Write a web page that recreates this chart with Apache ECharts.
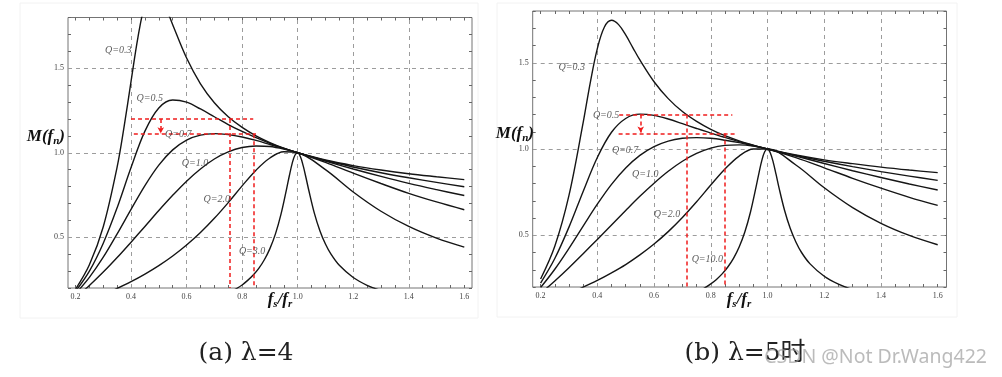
<!DOCTYPE html>
<html><head><meta charset="utf-8">
<script src="https://cdn.jsdelivr.net/npm/echarts@6/dist/echarts.min.js"></script>
<style>html,body{margin:0;padding:0;background:#fff}#c{width:1002px;height:377px}</style>
</head><body><div id="c"></div>
<script>
// ---------- data ----------
const fn = [0.2,0.25,0.3,0.35,0.4,0.45,0.5,0.55,0.6,0.65,0.7,0.75,0.8,0.85,0.9,0.95,1.0,1.1,1.2,1.3,1.4,1.5,1.6];
const fnFine = [0.2,0.25,0.3,0.35,0.375,0.4,0.425,0.45,0.475,0.5,0.525,0.55,0.6,0.65,0.7,0.75,0.8,0.85,0.9,0.95,1.0,1.1,1.2,1.3,1.4,1.5,1.6];
const fnNarrow = [0.75,0.78,0.8,0.82,0.84,0.86,0.88,0.9,0.92,0.94,0.96,0.97,0.98,0.99,1.0,1.01,1.02,1.03,1.04,1.06,1.08,1.1,1.12,1.15,1.2,1.25,1.3];

// panel (a) lambda = 4
const aQ03 = [0.192,0.337,0.562,0.916,1.154,1.422,1.684,1.880,1.964,1.943,1.860,1.757,1.560,1.408,1.296,1.213,1.150,1.100,1.060,1.027,1.000,0.957,0.924,0.898,0.876,0.858,0.841];
const aQ05 = [0.180,0.300,0.465,0.675,0.913,1.128,1.265,1.312,1.299,1.259,1.213,1.167,1.126,1.089,1.056,1.026,1.000,0.954,0.916,0.882,0.852,0.825,0.799];
const aQ07 = [0.166,0.263,0.382,0.520,0.665,0.806,0.927,1.017,1.075,1.104,1.113,1.107,1.093,1.073,1.049,1.025,1.000,0.951,0.904,0.860,0.819,0.782,0.747];
const aQ10 = [0.144,0.215,0.294,0.380,0.471,0.564,0.658,0.748,0.832,0.904,0.963,1.005,1.031,1.040,1.037,1.022,1.000,0.943,0.879,0.818,0.760,0.709,0.663];
const aQ20 = [0.092,0.125,0.160,0.197,0.237,0.282,0.332,0.389,0.454,0.528,0.612,0.705,0.804,0.897,0.969,1.006,1.000,0.900,0.768,0.654,0.564,0.495,0.442];
const aQnarrow = [0.170,0.197,0.218,0.245,0.277,0.316,0.367,0.433,0.520,0.637,0.785,0.864,0.936,0.985,1.000,0.976,0.922,0.852,0.778,0.643,0.539,0.460,0.400,0.334,0.262,0.216,0.185];

// panel (b) lambda = 5
const bQ03 = [0.246,0.436,0.731,1.153,1.384,1.582,1.707,1.746,1.721,1.661,1.588,1.516,1.390,1.292,1.217,1.160,1.114,1.077,1.047,1.022,1.000,0.965,0.937,0.915,0.895,0.878,0.863];
const bQ05 = [0.223,0.365,0.547,0.754,0.951,1.097,1.177,1.202,1.195,1.174,1.147,1.119,1.092,1.067,1.043,1.021,1.000,0.962,0.929,0.898,0.869,0.843,0.818];
const bQ07 = [0.197,0.303,0.424,0.553,0.680,0.795,0.890,0.963,1.014,1.046,1.062,1.066,1.062,1.051,1.037,1.019,1.000,0.959,0.916,0.874,0.835,0.797,0.762];
const bQ10 = [0.163,0.235,0.312,0.393,0.476,0.560,0.644,0.726,0.802,0.871,0.929,0.974,1.005,1.021,1.024,1.017,1.000,0.950,0.891,0.830,0.773,0.720,0.673];
const bQ20 = [0.097,0.129,0.163,0.199,0.238,0.282,0.330,0.386,0.449,0.521,0.603,0.694,0.791,0.884,0.959,1.000,1.000,0.907,0.775,0.660,0.569,0.499,0.445];
const bQnarrow = [0.170,0.196,0.218,0.244,0.276,0.316,0.366,0.432,0.519,0.635,0.783,0.862,0.934,0.984,1.000,0.977,0.924,0.854,0.779,0.645,0.540,0.461,0.400,0.334,0.262,0.216,0.185];

// curve labels [x, y, text]
const labelsA = [[0.354,1.605,'Q=0.3'],[0.467,1.323,'Q=0.5'],[0.570,1.108,'Q=0.7'],[0.630,0.938,'Q=1.0'],[0.709,0.722,'Q=2.0'],[0.836,0.418,'Q=3.0']];
const labelsB = [[0.310,1.472,'Q=0.3'],[0.431,1.193,'Q=0.5'],[0.498,0.994,'Q=0.7'],[0.569,0.853,'Q=1.0'],[0.646,0.623,'Q=2.0'],[0.788,0.361,'Q=10.0']];

// red dashed guides [x1, y1, x2, y2] and arrow [x, yFrom, yTo]
const redA = [[0.40,1.20,0.84,1.20],[0.41,1.11,0.85,1.11],[0.757,1.20,0.757,0.2],[0.842,1.11,0.842,0.2]];
const arrowA = [0.507,1.20,1.115];
const redB = [[0.477,1.20,0.876,1.20],[0.475,1.09,0.891,1.09],[0.714,1.20,0.714,0.2],[0.848,1.09,0.848,0.2]];
const arrowB = [0.553,1.20,1.095];

const gridX = [0.4,0.6,0.8,1.0,1.2,1.4];
const gridY = [0.5,1.0,1.5];
const captions = ['(a) λ=4','(b) λ=5时'];

// ---------- chart ----------
const SERIF = '"Liberation Serif","DejaVu Serif",serif';
const chart = echarts.init(document.getElementById('c'), null, {renderer:'canvas'});

function isMult(v, m){ const r = v/m; return Math.abs(r-Math.round(r))<1e-6; }
const tickStyle = {show:true, inside:true, length:3, lineStyle:{color:'#666', width:1}};
function xAxes(grid){
  return [
    {type:'value', gridIndex:grid, min:0.2, max:1.6, interval:0.05, position:'bottom',
     axisLine:{show:false}, splitLine:{show:false}, axisTick:tickStyle,
     axisLabel:{margin:5, fontSize:8, color:'#444', fontFamily:SERIF, formatter:v=>isMult(v,0.2)?v.toFixed(1):''}},
    {type:'value', gridIndex:grid, min:0.2, max:1.6, interval:0.05, position:'top',
     axisLine:{show:false}, splitLine:{show:false}, axisTick:tickStyle, axisLabel:{show:false}}
  ];
}
function yAxes(grid){
  return [
    {type:'value', gridIndex:grid, min:0.2, max:1.8, interval:0.1, position:'left',
     axisLine:{show:false}, splitLine:{show:false}, axisTick:tickStyle,
     axisLabel:{margin:4, fontSize:8, color:'#444', fontFamily:SERIF, formatter:v=>isMult(v,0.5)?v.toFixed(1):''}},
    {type:'value', gridIndex:grid, min:0.2, max:1.8, interval:0.1, position:'right',
     axisLine:{show:false}, splitLine:{show:false}, axisTick:tickStyle, axisLabel:{show:false}}
  ];
}
function curve(xs, ys, xi, yi){
  return {type:'line', xAxisIndex:xi, yAxisIndex:yi, data:xs.map((x,i)=>[x,ys[i]]),
    smooth:0.35, symbol:'none', silent:true, z:3,
    lineStyle:{color:'#151515', width:1.4}};
}
function panelSeries(xiF, yiF, xiD, yiD, curves, labels, red, arrow){
  const s = [];
  s.push({type:'line', xAxisIndex:xiD, yAxisIndex:yiD, data:[[0.2,0.2]], symbol:'none', lineStyle:{opacity:0}, silent:true,
    markLine:{silent:true, symbol:'none', z:1, label:{show:false}, emphasis:{disabled:true},
      lineStyle:{color:'#9c9c9c', type:[4,4], width:1}, data:gridX.map(v=>({xAxis:v}))}});
  s.push({type:'line', xAxisIndex:xiF, yAxisIndex:yiF, data:[[0,0.2]], symbol:'none', lineStyle:{opacity:0}, silent:true,
    markLine:{silent:true, symbol:'none', z:1, label:{show:false}, emphasis:{disabled:true},
      lineStyle:{color:'#9c9c9c', type:[4,4], width:1}, data:gridY.map(v=>[{coord:[0,v]},{coord:[1,v]}])}});
  curves.forEach(c=>s.push(curve(c[0], c[1], xiD, yiD)));
  const redData = red.map(r=>[{coord:[r[0],r[1]]},{coord:[r[2],r[3]]}]);
  redData.push([{coord:[arrow[0],arrow[1]], symbol:'none'},{coord:[arrow[0],arrow[2]], symbol:'arrow', symbolSize:[5,6]}]);
  s.push({type:'line', xAxisIndex:xiD, yAxisIndex:yiD, data:[[0.2,0.2]], symbol:'none', lineStyle:{opacity:0}, silent:true,
    markLine:{silent:true, symbol:'none', z:6, label:{show:false}, emphasis:{disabled:true},
      lineStyle:{color:'#f01c1c', type:[4,3], width:1.5}, data:redData}});
  s.push({type:'scatter', xAxisIndex:xiD, yAxisIndex:yiD, symbolSize:1, itemStyle:{color:'transparent'}, silent:true, z:7,
    data:labels.map(l=>[l[0],l[1],l[2]]),
    label:{show:true, position:'inside', formatter:p=>p.data[2], fontFamily:SERIF, fontStyle:'italic', fontSize:10, color:'#333'}});
  return s;
}

const W = 1002, H = 377;
const frameA = {left:68, right:W-472, top:17.5, bottom:H-288};
const dataA  = {left:75.5, right:W-464.3, top:17.5, bottom:H-288};
const frameB = {left:532.7, right:W-946.5, top:11, bottom:H-287};
const dataB  = {left:540.6, right:W-937.7, top:11, bottom:H-287};
const frameStyle = {show:true, borderColor:'#747474', borderWidth:1, backgroundColor:'transparent'};

const xAxis = [
  {type:'value', gridIndex:0, min:0, max:1, show:false},
  ...xAxes(1),
  {type:'value', gridIndex:2, min:0, max:1, show:false},
  ...xAxes(3)
];
const yAxis = [
  ...yAxes(0),
  {type:'value', gridIndex:1, min:0.2, max:1.8, show:false},
  ...yAxes(2),
  {type:'value', gridIndex:3, min:0.2, max:1.8, show:false}
];

const series = [
  ...panelSeries(0, 0, 1, 2,
    [[fnFine,aQ03],[fn,aQ05],[fn,aQ07],[fn,aQ10],[fn,aQ20],[fnNarrow,aQnarrow]], labelsA, redA, arrowA),
  ...panelSeries(3, 3, 4, 5,
    [[fnFine,bQ03],[fn,bQ05],[fn,bQ07],[fn,bQ10],[fn,bQ20],[fnNarrow,bQnarrow]], labelsB, redB, arrowB)
];

const titleRich = {
  m:{fontFamily:SERIF, fontWeight:'bold', fontStyle:'italic', fontSize:17, fill:'#111', color:'#111'},
  s:{fontFamily:SERIF, fontWeight:'bold', fontStyle:'italic', fontSize:11, fill:'#111', color:'#111', padding:[9,0,0,0]}
};
function rtext(x, y, text, align){
  return {type:'text', x:x, y:y, z:10, silent:true,
    style:{text:text, rich:titleRich, align:align, verticalAlign:'middle', fill:'#111'}};
}
const CAPFONT = '25px "DejaVu Serif","Liberation Serif","Noto Sans CJK SC",serif';

const graphic = [
  {type:'rect', shape:{x:20, y:3, width:458, height:315}, style:{fill:'none', stroke:'#f2f2f2', lineWidth:1}, z:-1, silent:true},
  {type:'rect', shape:{x:497, y:3, width:460, height:314}, style:{fill:'none', stroke:'#f2f2f2', lineWidth:1}, z:-1, silent:true},
  rtext(65, 137, '{m|M(}{m|f}{s|n}{m|)}', 'right'),
  rtext(534, 134, '{m|M(}{m|f}{s|n}{m|)}', 'right'),
  rtext(280, 300, '{m|f}{s|s}{m|/f}{s|r}', 'center'),
  rtext(739, 300, '{m|f}{s|s}{m|/f}{s|r}', 'center'),
  {type:'text', x:246, y:353, silent:true, style:{text:captions[0], font:CAPFONT, fill:'#222', align:'center', verticalAlign:'middle'}},
  {type:'text', x:745, y:353, silent:true, style:{text:captions[1], font:CAPFONT, fill:'#222', align:'center', verticalAlign:'middle'}},
  {type:'text', x:987, y:357, z:20, silent:true, style:{text:'CSDN @Not Dr.Wang422', font:'19.5px "Noto Sans","DejaVu Sans",sans-serif', fill:'rgba(150,150,150,0.65)', align:'right', verticalAlign:'middle'}}
];

chart.setOption({
  animation:false,
  backgroundColor:'#fff',
  grid:[Object.assign({}, frameA, frameStyle), Object.assign({}, dataA), Object.assign({}, frameB, frameStyle), Object.assign({}, dataB)],
  xAxis, yAxis, series, graphic
});
</script></body></html>
